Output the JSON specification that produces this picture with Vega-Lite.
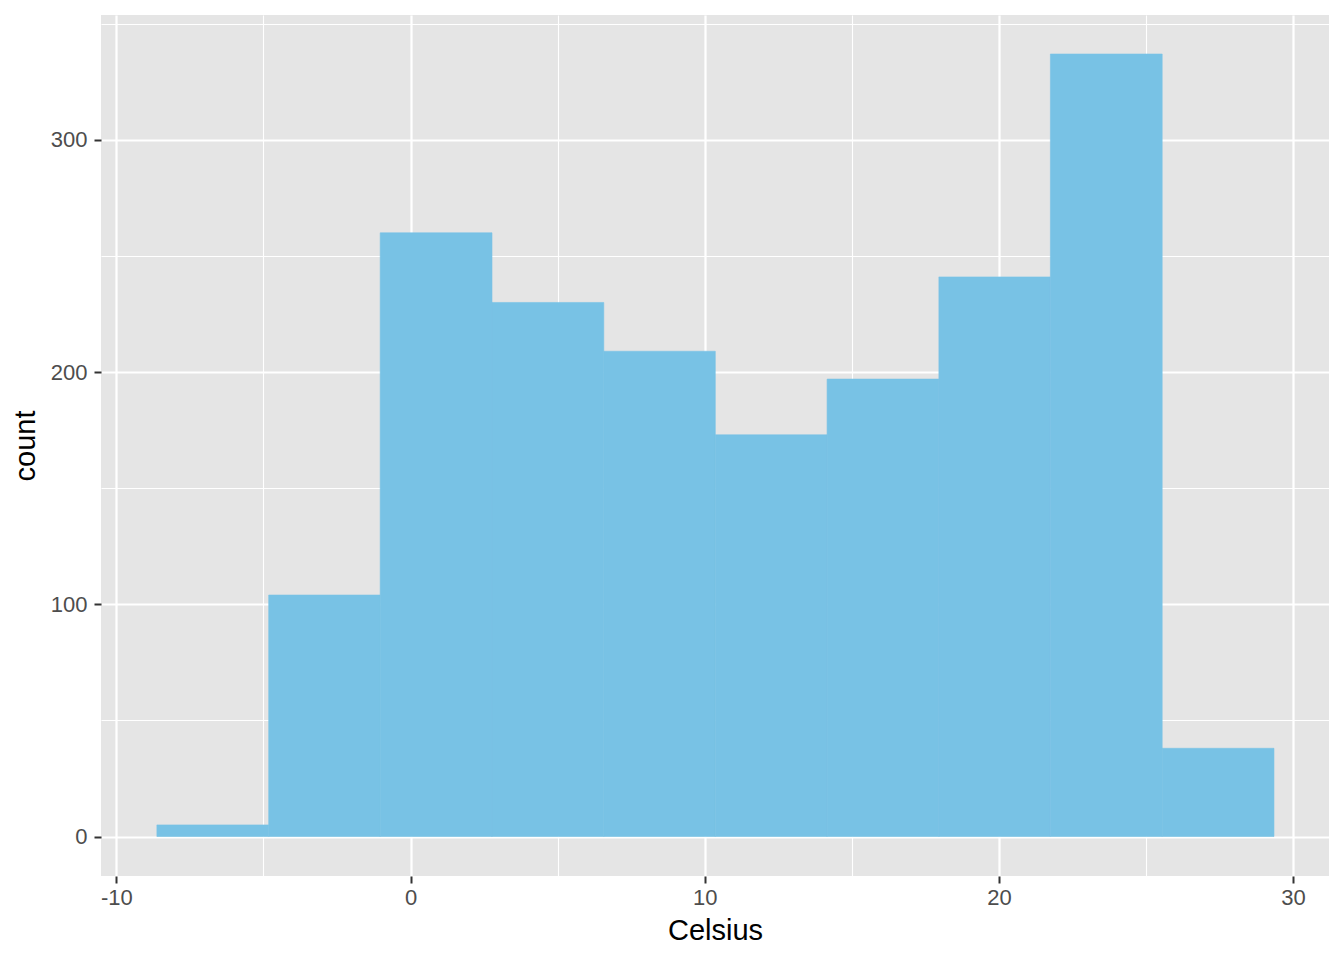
{
  "$schema": "https://vega.github.io/schema/vega-lite/v6.json",
  "autosize": "none",
  "width": 1228,
  "height": 861,
  "padding": {"left": 101, "top": 15, "right": 15, "bottom": 84},
  "background": "white",
  "config": {
    "view": {"fill": "#E5E5E5", "stroke": null},
    "font": "Liberation Sans"
  },
  "data": {
    "values": [
      {"bin_start": -8.62, "bin_end": -4.82, "count": 5},
      {"bin_start": -4.82, "bin_end": -1.03, "count": 104},
      {"bin_start": -1.03, "bin_end": 2.77, "count": 260},
      {"bin_start": 2.77, "bin_end": 6.57, "count": 230},
      {"bin_start": 6.57, "bin_end": 10.36, "count": 209},
      {"bin_start": 10.36, "bin_end": 14.16, "count": 173},
      {"bin_start": 14.16, "bin_end": 17.96, "count": 197},
      {"bin_start": 17.96, "bin_end": 21.75, "count": 241},
      {"bin_start": 21.75, "bin_end": 25.55, "count": 337},
      {"bin_start": 25.55, "bin_end": 29.35, "count": 38}
    ]
  },
  "mark": {"type": "rect", "color": "#78C2E5", "stroke": "#78C2E5", "strokeWidth": 0.6},
  "encoding": {
    "x": {
      "field": "bin_start",
      "type": "quantitative",
      "title": "Celsius",
      "scale": {"domain": [-10.52, 31.22], "nice": false, "zero": false},
      "axis": {
        "values": [-10, -5, 0, 5, 10, 15, 20, 25, 30],
        "labelExpr": "datum.value % 10 === 0 ? '' + datum.value : ''",
        "grid": true,
        "gridColor": "white",
        "gridWidth": {"condition": {"test": "datum.value % 10 === 0", "value": 2.2}, "value": 1.1},
        "domain": false,
        "tickColor": "#333333",
        "tickWidth": 2,
        "tickSize": 7,
        "tickOpacity": {"condition": {"test": "datum.value % 10 === 0", "value": 1}, "value": 0},
        "labelFontSize": 22,
        "labelColor": "#4D4D4D",
        "labelPadding": 4,
        "labelFlush": false,
        "labelOverlap": false,
        "titleFontSize": 29,
        "titleFontWeight": "normal",
        "titleColor": "black",
        "titlePadding": 8
      }
    },
    "x2": {"field": "bin_end"},
    "y": {
      "field": "count",
      "type": "quantitative",
      "title": "count",
      "scale": {"domain": [-17.0, 353.8], "nice": false, "zero": false},
      "axis": {
        "values": [0, 50, 100, 150, 200, 250, 300, 350],
        "labelExpr": "datum.value % 100 === 0 ? '' + datum.value : ''",
        "grid": true,
        "gridColor": "white",
        "gridWidth": {"condition": {"test": "datum.value % 100 === 0", "value": 2.2}, "value": 1.1},
        "domain": false,
        "tickColor": "#333333",
        "tickWidth": 2,
        "tickSize": 7,
        "tickOpacity": {"condition": {"test": "datum.value % 100 === 0", "value": 1}, "value": 0},
        "labelFontSize": 22,
        "labelColor": "#4D4D4D",
        "labelPadding": 7,
        "labelFlush": false,
        "labelOverlap": false,
        "titleFontSize": 29,
        "titleFontWeight": "normal",
        "titleColor": "black",
        "titlePadding": 10
      }
    },
    "y2": {"datum": 0}
  }
}
